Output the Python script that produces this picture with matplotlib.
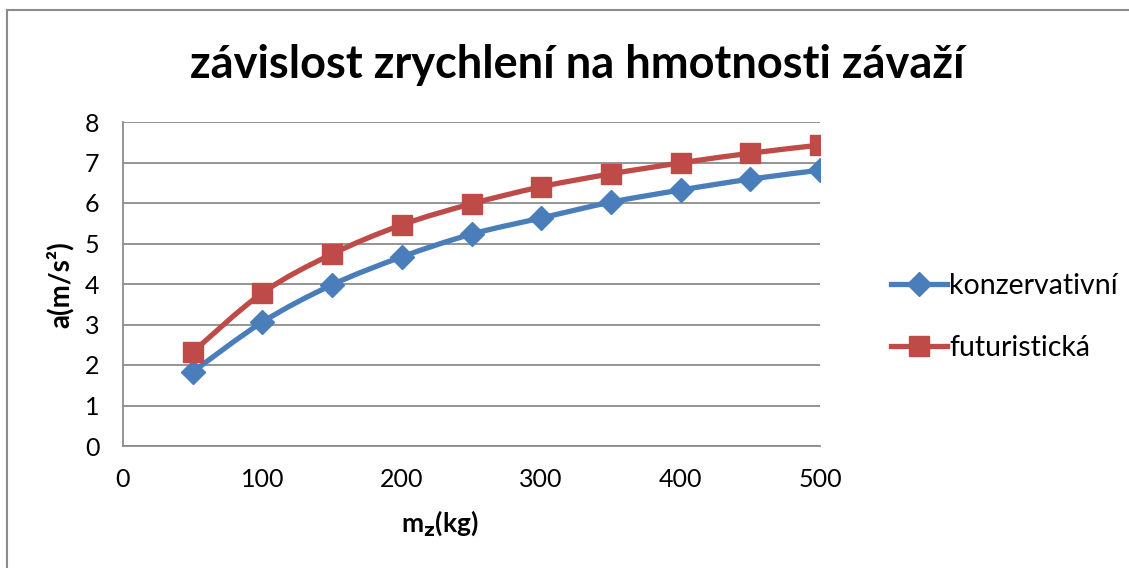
import matplotlib
matplotlib.use("Agg")
import matplotlib.pyplot as plt
import numpy as np
from matplotlib.path import Path
from matplotlib.patches import PathPatch
from matplotlib.lines import Line2D

plt.rcParams['font.family'] = ['Lato', 'DejaVu Sans']

mass = [50, 100, 150, 200, 250, 300, 350, 400, 450, 500]
konzervativni = [1.83, 3.06, 3.98, 4.67, 5.23, 5.63, 6.02, 6.32, 6.59, 6.81]
futuristicka = [2.32, 3.78, 4.74, 5.46, 5.98, 6.40, 6.72, 6.99, 7.23, 7.43]
series_names = ["konzervativní", "futuristická"]
title = "závislost zrychlení na hmotnosti závaží"
x_ticks = [0, 100, 200, 300, 400, 500]
y_ticks = [0, 1, 2, 3, 4, 5, 6, 7, 8]

blue = "#4A7EBB"
red = "#BE4B48"

fig = plt.figure(figsize=(11.29, 5.68), dpi=100)
ax = fig.add_axes([123/1129, 1-446/568, (820-123)/1129, (446-122)/568])

def smooth_path(xs, ys):
    pts = np.column_stack([xs, ys]).astype(float)
    n = len(pts)
    verts = [pts[0]]
    codes = [Path.MOVETO]
    for i in range(n-1):
        p0 = pts[i-1] if i > 0 else pts[i]
        p1 = pts[i]
        p2 = pts[i+1]
        p3 = pts[i+2] if i+2 < n else pts[i+1]
        c1 = p1 + (p2 - p0) / 6.0
        c2 = p2 - (p3 - p1) / 6.0
        verts += [c1, c2, p2]
        codes += [Path.CURVE4]*3
    return Path(verts, codes)

for ys, col, mk, ms in [(konzervativni, blue, 'D', 12), (futuristicka, red, 's', 15)]:
    patch = PathPatch(smooth_path(mass, ys), facecolor='none', edgecolor=col,
                      lw=3.8, zorder=3, capstyle='round', joinstyle='round')
    ax.add_patch(patch)
    ax.plot(mass, ys, linestyle='none', marker=mk, color=col, markersize=ms, zorder=4)

ax.set_xlim(0, 500)
ax.set_ylim(0, 8)
ax.set_xticks(x_ticks)
ax.set_yticks(y_ticks)
ax.tick_params(length=0, labelsize=18, colors='black')
ax.tick_params(axis='x', pad=16)
ax.tick_params(axis='y', pad=17)
ax.yaxis.grid(True, color='#8C8C8C', lw=1.3)
ax.set_axisbelow(True)
for s in ['top', 'right']:
    ax.spines[s].set_visible(False)
for s in ['left', 'bottom']:
    ax.spines[s].set_color('#8C8C8C')
    ax.spines[s].set_linewidth(1.3)

fig.text(440/1129, 1-523/568, r"m$_\mathbf{z}$(kg)", fontsize=19, fontweight='bold',
         ha='center', va='center')
fig.text(60/1129, 1-285/568, "a(m/s²)", fontsize=20, fontweight='bold',
         ha='center', va='center', rotation=90)

fig.text(577/1129, 1-65/568, title, fontsize=32.5, fontweight='bold', ha='center', va='center')

handles = [Line2D([], [], color=blue, lw=3.8, marker='D', markersize=12),
           Line2D([], [], color=red, lw=3.8, marker='s', markersize=15)]
fig.legend(handles, series_names, loc='center left', bbox_to_anchor=(891/1129, 1-317/568),
           frameon=False, fontsize=20.5, handlelength=1.95, handletextpad=0.1, labelspacing=1.25,
           borderpad=0, borderaxespad=0)

# outer chart border (top and left visible)
fig.add_artist(Line2D([7/1129, 7/1129], [0, 1-10/568], transform=fig.transFigure, color='#8C8C8C', lw=1.5))
fig.add_artist(Line2D([7/1129, 1], [1-10/568, 1-10/568], transform=fig.transFigure, color='#8C8C8C', lw=1.5))

fig.savefig("out.png", dpi=100)
